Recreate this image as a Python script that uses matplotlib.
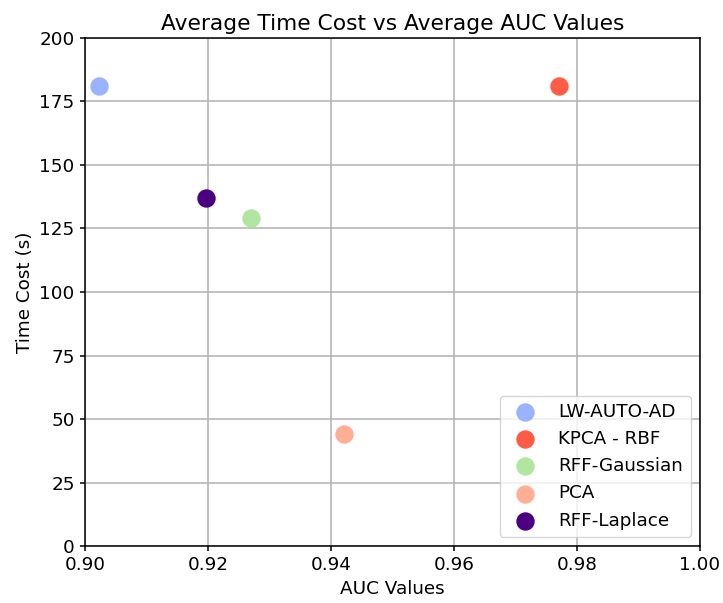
import matplotlib
matplotlib.use("Agg")
import matplotlib.pyplot as plt

methods = ["LW-AUTO-AD", "KPCA - RBF", "RFF-Gaussian", "PCA", "RFF-Laplace"]
auc_values = [0.9023, 0.9771, 0.9270, 0.9421, 0.9197]
time_costs = [181.0, 181.0, 129.0, 44.0, 137.0]
colors = ["#99b3ff", "#ff5c45", "#b0e6a0", "#ffaf96", "#4b0082"]

fig, ax = plt.subplots(figsize=(7.23, 6.03), dpi=100)
for name, x, y, c in zip(methods, auc_values, time_costs, colors):
    ax.scatter(x, y, s=150, color=c, label=name, zorder=3)

ax.set_xlim(0.90, 1.00)
ax.set_ylim(0, 200)
ax.set_xlabel("AUC Values", fontsize=13.2)
ax.set_ylabel("Time Cost (s)", fontsize=13.2)
ax.set_title("Average Time Cost vs Average AUC Values", fontsize=15.7)
ax.tick_params(labelsize=13.2, width=1.1, length=3.9)
for sp in ax.spines.values():
    sp.set_linewidth(1.1)
ax.grid(True, color="#b0b0b0", linewidth=1.1)
ax.legend(loc="lower right", fontsize=13.2)
fig.subplots_adjust(left=0.1176, right=0.968, top=0.937, bottom=0.0945)
fig.savefig("out.png", dpi=100)
